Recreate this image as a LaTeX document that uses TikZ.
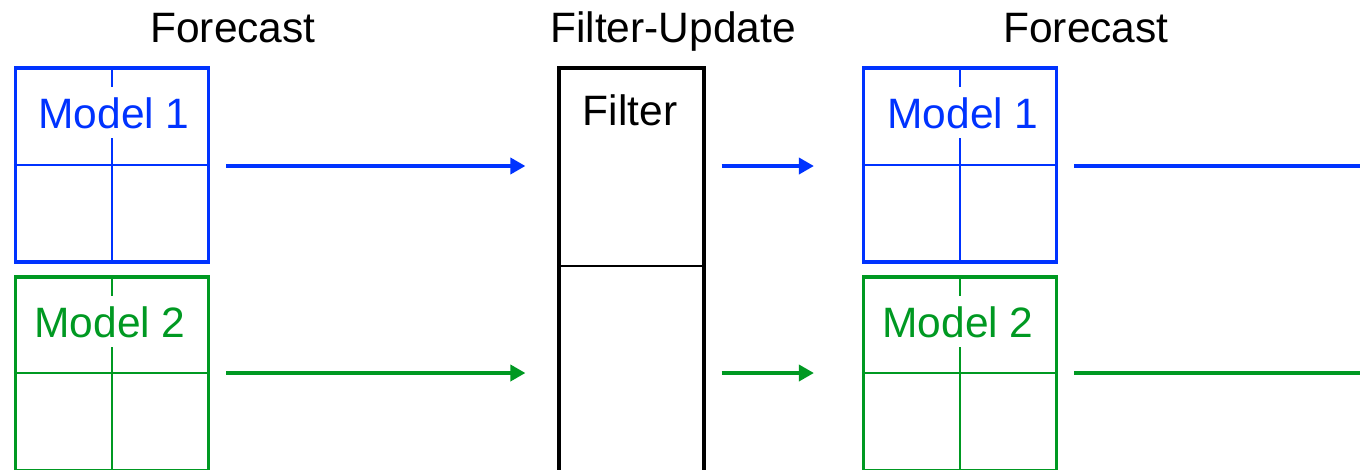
\documentclass[tikz,border=0pt]{standalone}
\usepackage{fontspec}
\setmainfont{Liberation Sans}
\usetikzlibrary{arrows.meta,calc}
\definecolor{mblue}{RGB}{0,51,255}
\definecolor{mgreen}{RGB}{0,153,34}
\begin{document}
\begin{tikzpicture}[x=1pt,y=-1pt,
  mbox/.style={draw, line width=3.2pt, minimum width=193pt, minimum height=194pt, inner sep=0pt},
  divline/.style={line width=2pt},
  lbl/.style={font=\fontsize{42.5}{50}\selectfont, inner sep=10pt, anchor=base},
  title/.style={font=\fontsize{42.5}{50}\selectfont, inner sep=0pt, anchor=base},
  flow/.style={line width=3.6pt, -{Triangle[length=15pt,width=16pt]}},
  flowend/.style={line width=3.8pt}]
\useasboundingbox (0,0) rectangle (1360,469);
\clip (0,0) rectangle (1360,469);
% titles
\node[title] (tl) at (233,42) {Forecast};
\node[title] (tm) at (673,42) {Filter-Update};
\node[title] (tr) at (1086,42) {Forecast};
% left boxes
\node[mbox, draw=mblue] (b1) at (112,165) {};
\draw[mblue, divline] (b1.west) -- (b1.east);
\draw[mblue, divline] (b1.north) -- (b1.south);
\node[lbl, text=mblue, fill=white] (t1) at (114,128) {Model 1};
\node[mbox, draw=mgreen] (b2) at (112,374) {};
\draw[mgreen, divline] ([yshift=1pt]b2.west) -- ([yshift=1pt]b2.east);
\draw[mgreen, divline] (b2.north) -- (b2.south);
\node[lbl, text=mgreen, fill=white] (t2) at (110,337) {Model 2};
% filter
\node[draw, line width=3.2pt, minimum width=145pt, minimum height=410pt, inner sep=0pt] (f) at (631.5,273) {};
\draw[line width=2pt] ([yshift=-200pt]f.north west) -- ([yshift=-200pt]f.north east);
\node[title] (ft) at (630,125) {Filter};
% right boxes
\node[mbox, draw=mblue] (b3) at (960,165) {};
\draw[mblue, divline] (b3.west) -- (b3.east);
\draw[mblue, divline] (b3.north) -- (b3.south);
\node[lbl, text=mblue, fill=white] (t3) at (963,128) {Model 1};
\node[mbox, draw=mgreen] (b4) at (960,374) {};
\draw[mgreen, divline] ([yshift=1pt]b4.west) -- ([yshift=1pt]b4.east);
\draw[mgreen, divline] (b4.north) -- (b4.south);
\node[lbl, text=mgreen, fill=white] (t4) at (958,337) {Model 2};
% arrows
\draw[flow, mblue] ([xshift=16pt,yshift=-1pt]b1.east) -- ($(f.west |- b1.east)+(-32,1)$);
\draw[flow, mgreen] ([xshift=16pt,yshift=1pt]b2.east) -- ($(f.west |- b2.east)+(-32,-1)$);
\draw[flow, mblue] ($(f.east |- b3.west)+(16,1)$) -- ([xshift=-48pt,yshift=-1pt]b3.west);
\draw[flow, mgreen] ($(f.east |- b4.west)+(16,-1)$) -- ([xshift=-48pt,yshift=1pt]b4.west);
\coordinate (e1) at (1370,166);
\coordinate (e2) at (1370,373);
\draw[flowend, mblue] ([xshift=16pt,yshift=-1pt]b3.east) -- (e1);
\draw[flowend, mgreen] ([xshift=16pt,yshift=1pt]b4.east) -- (e2);
\end{tikzpicture}
\end{document}
